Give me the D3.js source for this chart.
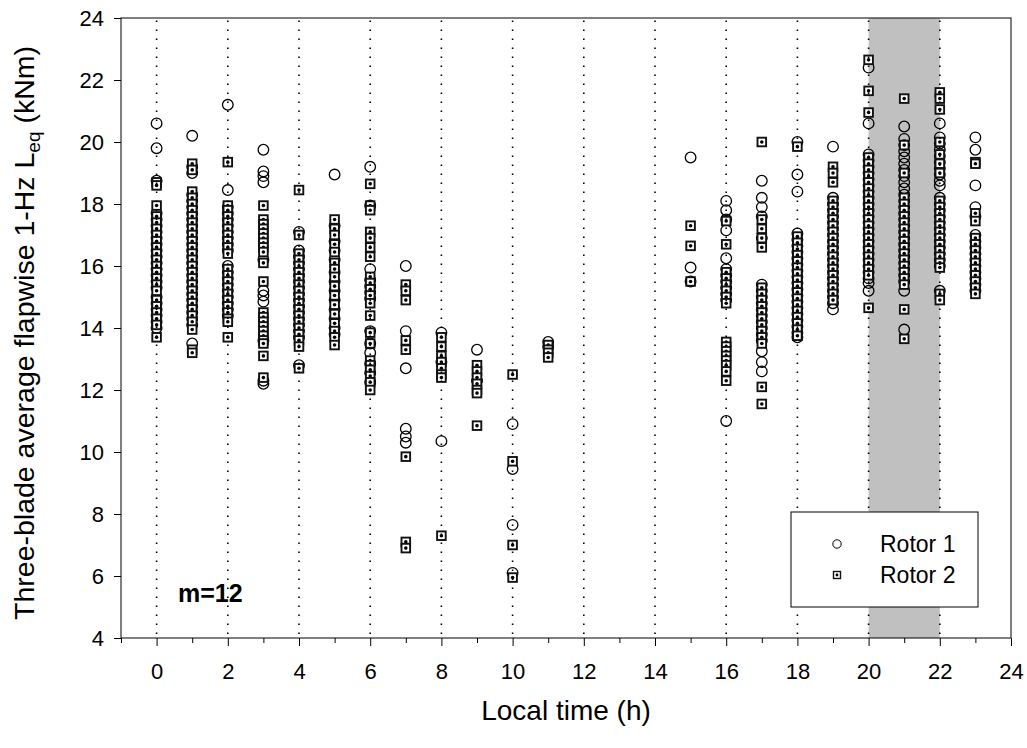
<!DOCTYPE html>
<html>
<head>
<meta charset="utf-8">
<script src="https://cdn.jsdelivr.net/npm/d3@7"></script>
<style>
  body { margin: 0; background: #fff; }
  text { font-family: "Liberation Sans", Arial, sans-serif; }
</style>
</head>
<body>
<script>
// hour of day for each column of readings
var hours = [0, 1, 2, 3, 4, 5, 6, 7, 8, 9, 10, 11, 12, 13, 14, 15, 16, 17, 18, 19, 20, 21, 22, 23]

// Rotor 1 readings per hour (kNm)
var rotor1 = [
  [20.6, 19.8, 18.75, 17.7, 17.5, 17.3, 17.1, 16.9, 16.7, 16.5, 16.3, 16.1, 15.9, 15.7, 15.5, 15.3, 15.0, 14.8, 14.6, 14.4, 14.2, 14.0],
  [20.2, 19.2, 19.0, 18.3, 18.1, 17.9, 17.7, 17.5, 17.3, 17.1, 16.9, 16.7, 16.5, 16.3, 16.1, 15.9, 15.7, 15.5, 15.3, 15.1, 14.9, 14.7, 14.5, 14.3, 14.1, 13.5],
  [21.2, 18.45, 17.9, 17.7, 17.5, 17.3, 17.1, 16.9, 16.7, 16.5, 16.0, 15.8, 15.6, 15.4, 15.2, 15.0, 14.8, 14.6, 14.4],
  [19.75, 19.05, 18.9, 18.7, 16.2, 15.2, 15.05, 14.85, 13.6, 12.3, 12.2],
  [17.1, 16.5, 16.3, 16.1, 15.9, 15.7, 15.5, 15.3, 15.1, 14.9, 14.7, 14.5, 14.3, 14.1, 13.9, 13.7, 12.8],
  [18.95, 17.3, 16.8, 16.5, 16.2, 15.8, 15.5, 15.2, 14.9, 14.6, 14.3, 14.0, 13.8],
  [19.2, 17.95, 15.9, 15.55, 15.35, 15.15, 14.95, 13.9, 13.5, 13.2, 12.85, 12.55, 12.25],
  [16.0, 13.9, 12.7, 10.75, 10.5, 10.3],
  [13.85, 12.9, 10.35],
  [13.3, 12.3],
  [10.9, 9.45, 7.65, 6.1],
  [13.55, 13.4],
  [], [], [],
  [19.5, 15.95, 15.5],
  [18.1, 17.8, 17.5, 17.15, 16.25, 15.9, 15.7, 15.5, 15.3, 15.1, 14.9, 11.0],
  [18.75, 18.2, 17.9, 17.6, 16.9, 15.4, 15.2, 15.0, 14.8, 14.6, 14.4, 14.2, 14.0, 13.8, 13.6, 13.25, 12.9, 12.6],
  [20.0, 18.95, 18.4, 17.05, 16.85, 16.65, 16.45, 16.25, 16.05, 15.85, 15.65, 15.45, 15.25, 15.05, 14.85, 14.65, 14.45, 14.25, 14.05, 13.85, 13.7],
  [19.85, 18.2, 18.0, 17.8, 17.6, 17.4, 17.2, 17.0, 16.8, 16.6, 16.4, 16.2, 16.0, 15.8, 15.6, 15.4, 15.2, 15.0, 14.8, 14.6],
  [22.4, 20.6, 19.6, 19.4, 19.2, 19.0, 18.8, 18.6, 18.4, 18.2, 18.0, 17.8, 17.6, 17.4, 17.2, 17.0, 16.8, 16.6, 16.4, 16.2, 16.0, 15.8, 15.6, 15.45, 15.2],
  [20.5, 20.1, 19.9, 19.7, 19.5, 19.3, 19.1, 18.9, 18.7, 18.5, 18.3, 18.1, 17.9, 17.7, 17.5, 17.3, 17.1, 16.9, 16.7, 16.5, 16.3, 16.1, 15.9, 15.7, 15.5, 15.2, 13.95],
  [20.6, 20.15, 19.95, 19.75, 19.55, 19.35, 19.15, 18.95, 18.75, 18.6, 18.2, 18.0, 17.8, 17.6, 17.4, 17.2, 17.0, 16.8, 16.6, 16.4, 16.2, 16.0, 15.2],
  [20.15, 19.75, 18.6, 17.9, 17.6, 17.0, 16.8, 16.6, 16.4, 16.2, 16.0, 15.8, 15.6, 15.4, 15.2]
]

// Rotor 2 readings per hour (kNm)
var rotor2 = [
  [18.7, 18.6, 17.95, 17.6, 17.4, 17.2, 17.0, 16.8, 16.6, 16.4, 16.2, 16.0, 15.8, 15.6, 15.4, 15.2, 14.9, 14.7, 14.5, 14.3, 14.1, 13.7],
  [19.3, 19.1, 18.4, 18.2, 18.0, 17.8, 17.6, 17.4, 17.2, 17.0, 16.8, 16.6, 16.4, 16.2, 16.0, 15.8, 15.6, 15.4, 15.2, 15.0, 14.8, 14.6, 14.4, 14.2, 13.95, 13.3, 13.2],
  [19.35, 17.95, 17.8, 17.6, 17.4, 17.2, 17.0, 16.8, 16.6, 16.4, 15.9, 15.7, 15.5, 15.3, 15.1, 14.9, 14.7, 14.5, 14.3, 14.2, 13.7],
  [17.95, 17.5, 17.35, 17.2, 17.05, 16.9, 16.75, 16.6, 16.45, 16.1, 15.5, 14.5, 14.35, 14.2, 14.05, 13.9, 13.75, 13.6, 13.5, 13.1, 12.4],
  [18.45, 17.0, 16.4, 16.2, 16.0, 15.8, 15.6, 15.4, 15.2, 15.0, 14.8, 14.6, 14.4, 14.2, 14.0, 13.8, 13.6, 13.4, 12.7],
  [17.5, 17.2, 17.0, 16.7, 16.45, 16.1, 15.9, 15.65, 15.35, 15.05, 14.75, 14.45, 14.15, 13.9, 13.7, 13.45],
  [18.65, 17.95, 17.8, 17.1, 16.9, 16.6, 16.3, 15.65, 15.45, 15.25, 15.05, 14.8, 14.4, 13.85, 13.5, 12.95, 12.8, 12.65, 12.45, 12.25, 12.0],
  [15.4, 15.2, 14.9, 13.6, 13.3, 9.85, 7.1, 6.9],
  [13.7, 13.4, 13.1, 12.9, 12.7, 12.5, 12.4, 7.3],
  [12.8, 12.6, 12.4, 12.2, 12.0, 11.9, 10.85],
  [12.5, 9.7, 7.0, 5.95],
  [13.45, 13.3, 13.2, 13.05],
  [], [], [],
  [17.3, 16.65, 15.5],
  [17.45, 16.7, 15.8, 15.6, 15.4, 15.2, 15.0, 14.8, 13.55, 13.4, 13.25, 13.1, 12.95, 12.8, 12.6, 12.3],
  [20.0, 17.5, 17.2, 16.9, 16.6, 15.3, 15.1, 14.9, 14.7, 14.5, 14.3, 14.1, 13.9, 13.7, 13.5, 12.1, 11.55],
  [19.85, 16.95, 16.75, 16.55, 16.35, 16.15, 15.95, 15.75, 15.55, 15.35, 15.15, 14.95, 14.75, 14.55, 14.35, 14.15, 13.95, 13.75],
  [19.2, 19.0, 18.7, 18.1, 17.9, 17.7, 17.5, 17.3, 17.1, 16.9, 16.7, 16.5, 16.3, 16.1, 15.9, 15.7, 15.5, 15.3, 15.1, 14.9],
  [22.65, 21.65, 20.95, 19.5, 19.3, 19.1, 18.9, 18.7, 18.5, 18.3, 18.1, 17.9, 17.7, 17.5, 17.3, 17.1, 16.9, 16.7, 16.5, 16.3, 16.1, 15.9, 15.7, 14.65],
  [21.4, 19.9, 19.0, 18.2, 18.0, 17.8, 17.6, 17.4, 17.2, 17.0, 16.8, 16.6, 16.4, 16.2, 16.0, 15.8, 15.6, 15.4, 14.6, 13.65],
  [21.6, 21.4, 21.05, 20.0, 19.6, 19.3, 19.0, 18.1, 17.9, 17.7, 17.5, 17.3, 17.1, 16.9, 16.7, 16.5, 16.3, 16.1, 15.95, 15.1, 14.9],
  [19.35, 19.3, 17.7, 17.45, 16.9, 16.7, 16.5, 16.3, 16.1, 15.9, 15.7, 15.5, 15.3, 15.1]
]

var xTicks = [0, 2, 4, 6, 8, 10, 12, 14, 16, 18, 20, 22, 24]
var xMinorTicks = [-1, 1, 3, 5, 7, 9, 11, 13, 15, 17, 19, 21, 23]
var yTicks = [4, 6, 8, 10, 12, 14, 16, 18, 20, 22, 24]
var gridHours = [0, 2, 4, 6, 8, 10, 12, 14, 16, 18, 20, 22]
var shadedBand = [20, 22]
var seriesNames = ["Rotor 1", "Rotor 2"]


function toPoints(series) {
  var pts = []
  series.forEach(function(vals, i) {
    vals.forEach(function(v) { pts.push({h: hours[i], v: v}) })
  })
  return pts
}


function main() {
  var width = 1027, height = 748
  var left = 121, right = 1011, top = 18, bottom = 638

  var svg = d3.select("body").append("svg")
    .attr("width", width)
    .attr("height", height)

  var x = d3.scaleLinear().domain([-1, 24]).range([left, right])
  var y = d3.scaleLinear().domain([4, 24]).range([bottom, top])

  // grey band
  svg.append("rect")
    .attr("x", x(shadedBand[0]))
    .attr("y", top)
    .attr("width", x(shadedBand[1]) - x(shadedBand[0]))
    .attr("height", bottom - top)
    .attr("fill", "#c0c0c0")

  // rotor 1: open circles
  svg.append("g").selectAll("circle")
    .data(toPoints(rotor1))
    .enter()
    .append("circle")
    .attr("cx", function(d) { return x(d.h) })
    .attr("cy", function(d) { return y(d.v) })
    .attr("r", 5.3)
    .attr("fill", "none")
    .attr("stroke", "#000")
    .attr("stroke-width", 1.3)

  // rotor 2: squares with a dot
  var sq = svg.append("g").selectAll("g")
    .data(toPoints(rotor2))
    .enter()
    .append("g")
    .attr("transform", function(d) { return "translate(" + x(d.h) + "," + y(d.v) + ")" })
  sq.append("rect")
    .attr("x", -4.3).attr("y", -4.3)
    .attr("width", 8.6).attr("height", 8.6)
    .attr("fill", "#fff")
    .attr("stroke", "#111")
    .attr("stroke-width", 1.9)
  sq.append("circle")
    .attr("r", 1.8)
    .attr("fill", "#000")

  // dotted hour lines (drawn over the markers)
  svg.append("g").selectAll("line")
    .data(gridHours)
    .enter()
    .append("line")
    .attr("x1", function(d) { return x(d) })
    .attr("x2", function(d) { return x(d) })
    .attr("y1", bottom - 4)
    .attr("y2", top)
    .attr("stroke", "#000")
    .attr("stroke-width", 1.6)
    .attr("stroke-dasharray", "1.6,7.4")

  // frame
  svg.append("rect")
    .attr("x", left).attr("y", top)
    .attr("width", right - left).attr("height", bottom - top)
    .attr("fill", "none")
    .attr("stroke", "#000")
    .attr("stroke-width", 1)

  // axes
  var xAxis = svg.append("g")
    .attr("transform", "translate(0," + bottom + ")")
    .call(d3.axisBottom(x).tickValues(xTicks).tickSize(8).tickPadding(17))
  var xMinor = svg.append("g")
    .attr("transform", "translate(0," + bottom + ")")
    .call(d3.axisBottom(x).tickValues(xMinorTicks).tickSize(5).tickFormat(""))
  var yAxis = svg.append("g")
    .attr("transform", "translate(" + left + ",0)")
    .call(d3.axisLeft(y).tickValues(yTicks).tickSize(7).tickPadding(10))

  ;[xAxis, xMinor, yAxis].forEach(function(a) {
    a.select(".domain").remove()
    a.selectAll("line").attr("stroke", "#000")
    a.selectAll("text")
      .attr("fill", "#000")
      .style("font-size", "22px")
      .style("font-family", "Liberation Sans, Arial, sans-serif")
  })

  // axis titles
  svg.append("text")
    .attr("x", (left + right) / 2)
    .attr("y", 720)
    .attr("text-anchor", "middle")
    .style("font-size", "28px")
    .text("Local time (h)")

  var yt = svg.append("text")
    .attr("transform", "translate(34," + ((top + bottom) / 2 + 5) + ") rotate(-90)")
    .attr("text-anchor", "middle")
    .style("font-size", "28.5px")
  yt.append("tspan").text("Three-blade average flapwise 1-Hz L")
  yt.append("tspan").attr("dy", 6).style("font-size", "19px").text("eq")
  yt.append("tspan").attr("dy", -6).text(" (kNm)")

  // m=12
  svg.append("text")
    .attr("x", 178)
    .attr("y", 602)
    .style("font-size", "25px")
    .style("font-weight", "bold")
    .text("m=12")

  // legend
  var lg = svg.append("g")
  lg.append("rect")
    .attr("x", 791).attr("y", 512)
    .attr("width", 187).attr("height", 95)
    .attr("fill", "#fff")
    .attr("stroke", "#000")
    .attr("stroke-width", 1)
  lg.append("circle")
    .attr("cx", 837).attr("cy", 544).attr("r", 4.2)
    .attr("fill", "none").attr("stroke", "#000").attr("stroke-width", 1)
  lg.append("rect")
    .attr("x", 833.5).attr("y", 571.5).attr("width", 7).attr("height", 7)
    .attr("fill", "#fff").attr("stroke", "#111").attr("stroke-width", 1.4)
  lg.append("circle")
    .attr("cx", 837).attr("cy", 575).attr("r", 1.4).attr("fill", "#000")
  lg.selectAll("text.lab")
    .data(seriesNames)
    .enter()
    .append("text")
    .attr("class", "lab")
    .attr("x", 880)
    .attr("y", function(d, i) { return 552 + i * 31 })
    .style("font-size", "23px")
    .text(function(d) { return d })
}

main()
</script>
</body>
</html>
